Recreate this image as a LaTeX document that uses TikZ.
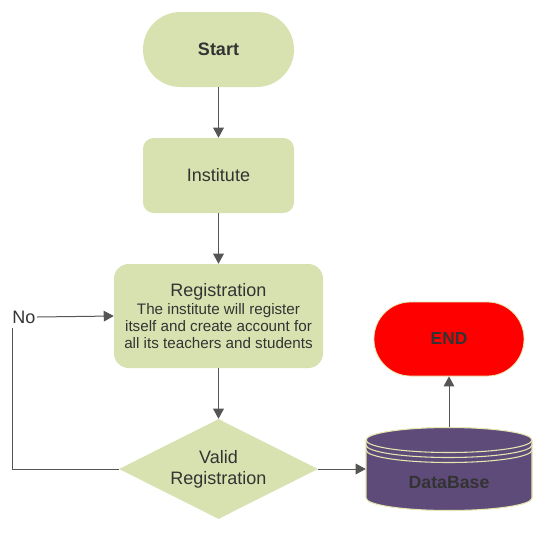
\documentclass[tikz,border=0pt]{standalone}
\usepackage{fontspec}
\setmainfont{Liberation Sans}
\usetikzlibrary{shapes.geometric,arrows.meta}
\definecolor{boxgreen}{HTML}{D8E2B0}
\definecolor{dbpurple}{HTML}{5F4B7A}
\definecolor{dbedge}{HTML}{E4E7B0}
\definecolor{txt}{HTML}{333333}
\definecolor{arr}{HTML}{555555}
\definecolor{endred}{HTML}{FF0000}
\tikzset{
  greenbox/.style={fill=boxgreen, draw=none, text=txt, inner sep=0pt, align=center},
  conn/.style={draw=arr, line width=0.75pt},
  arrowconn/.style={conn, -{Triangle[length=7.5pt,width=8pt]}},
  lbl/.style={text=txt, font=\fontsize{13.5pt}{15.75pt}\selectfont, inner sep=1pt},
}
\begin{document}
\begin{tikzpicture}[x=0.75pt,y=-0.75pt]
\useasboundingbox (0,0) rectangle (547,533);
% Start
\node[greenbox, minimum width=113.25pt, minimum height=56.25pt, rounded corners=28pt,
  font=\bfseries\fontsize{13.5pt}{16pt}\selectfont] (start) at (218.5,49.5) {Start};
% Institute
\node[greenbox, minimum width=113.25pt, minimum height=56.25pt, rounded corners=8pt,
  font=\fontsize{13.5pt}{16pt}\selectfont] (inst) at (218.5,175.5) {Institute};
% Registration
\node[greenbox, minimum width=156.75pt, minimum height=78pt, rounded corners=11pt,
  font=\fontsize{11.4pt}{12.75pt}\selectfont] (reg) at (218.5,316)
  {\fontsize{13.5pt}{14pt}\selectfont Registration\\[0.5pt]
   \fontsize{11.4pt}{12.75pt}\selectfont The institute will register\\itself and create account for\\all its teachers and students};
% Diamond
\node[greenbox, diamond, aspect=2, minimum width=149.25pt, minimum height=75pt,
  font=\fontsize{13.5pt}{15.75pt}\selectfont] (valid) at (218.5,469) {Valid\\Registration};
% END
\node[fill=endred, draw=dbedge, line width=0.6pt, minimum width=112.5pt, minimum height=55.5pt,
  rounded corners=27.5pt, text=txt, font=\bfseries\fontsize{13pt}{15pt}\selectfont] (end) at (449,339) {END};
% Database
\node[minimum width=124.5pt, minimum height=62pt, inner sep=0pt] (db) at (449,469) {};
\draw[fill=dbpurple, draw=dbedge, line width=0.8pt]
  (366,440) -- (366,498) arc[start angle=180, end angle=0, x radius=83, y radius=12.5]
  -- (532,440) arc[start angle=0, end angle=-180, x radius=83, y radius=12.5] -- cycle;
\draw[draw=dbedge, line width=0.8pt] (366,440) arc[start angle=180, end angle=0, x radius=83, y radius=12.5];
\draw[draw=dbedge, line width=0.8pt] (366,445) arc[start angle=180, end angle=0, x radius=83, y radius=12.5];
\draw[draw=dbedge, line width=0.8pt] (366,450) arc[start angle=180, end angle=0, x radius=83, y radius=12.5];
\node[text=txt, font=\bfseries\fontsize{13.3pt}{15pt}\selectfont] (dblabel) at (449,482) {DataBase};
% No label
\node[lbl] (no) at (24,317) {No};
\coordinate (loopc) at (12,469);
\coordinate (loopt) at (12,328);
% Connectors
\draw[arrowconn] (start.south) -- (inst.north);
\draw[arrowconn] (inst.south) -- (reg.north);
\draw[arrowconn] (reg.south) -- (valid.north);
\draw[arrowconn] (valid.east) -- (db.west);
\draw[arrowconn] (db.north) -- (end.south);
\draw[conn] (valid.west) -- (loopc) -- (loopt);
\draw[arrowconn] (no.east) -- (reg.west);
\end{tikzpicture}
\end{document}
